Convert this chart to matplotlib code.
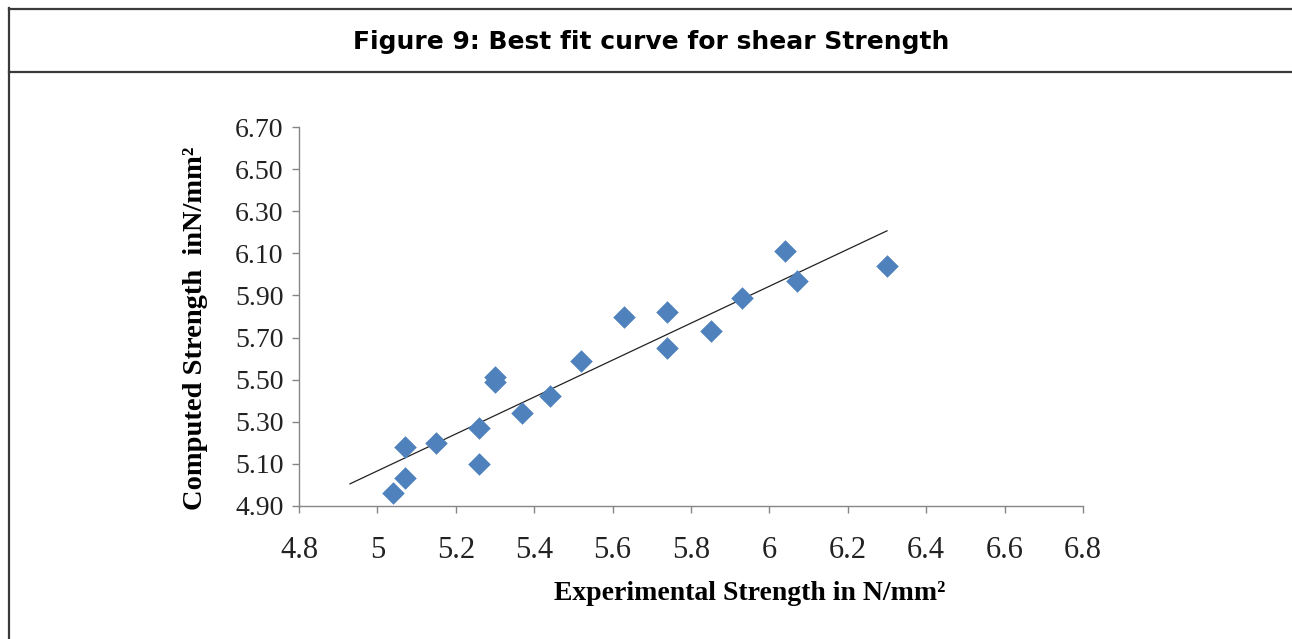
import matplotlib
import matplotlib.pyplot as plt
import numpy as np
from matplotlib.lines import Line2D

matplotlib.use('Agg')

# experimental vs computed shear strength, N/mm2
experimental = [5.04, 5.07, 5.07, 5.15, 5.26, 5.26, 5.30, 5.30, 5.37, 5.44,
                5.52, 5.63, 5.74, 5.74, 5.85, 5.93, 6.04, 6.07, 6.30]
computed = [4.96, 5.18, 5.03, 5.20, 5.27, 5.10, 5.51, 5.49, 5.34, 5.42,
            5.59, 5.80, 5.82, 5.65, 5.73, 5.89, 6.11, 5.97, 6.04]
x_ticks = [4.8, 5.0, 5.2, 5.4, 5.6, 5.8, 6.0, 6.2, 6.4, 6.6, 6.8]
y_ticks = [4.90, 5.10, 5.30, 5.50, 5.70, 5.90, 6.10, 6.30, 6.50, 6.70]
trend_start = 4.93

title = 'Figure 9: Best fit curve for shear Strength'
x_label = 'Experimental Strength in N/mm²'
y_label = 'Computed Strength  inN/mm²'

W, H = 1292, 639
fig = plt.figure(figsize=(W / 100, H / 100), dpi=100)
fig.patch.set_facecolor('white')

# frame around the figure and the title band
frame_color = '#3a3a3a'
fig.add_artist(Line2D([9 / W, 1], [1 - 8.7 / H, 1 - 8.7 / H], color=frame_color, lw=1.6))
fig.add_artist(Line2D([9 / W, 1], [1 - 72 / H, 1 - 72 / H], color=frame_color, lw=1.6))
fig.add_artist(Line2D([9.3 / W, 9.3 / W], [0, 1 - 8 / H], color=frame_color, lw=1.6))
fig.text(651 / W, 1 - 42 / H, title, ha='center', va='center',
         fontsize=18, fontweight='bold', family='DejaVu Sans')

ax = fig.add_axes([299 / W, 1 - 505.7 / H, (1083 - 299) / W, (505.7 - 127.3) / H])

ax.scatter(experimental, computed, marker='D', s=11.5 ** 2, color='#4F81BD',
           linewidths=0, zorder=3)

# linear least-squares trend line
slope, intercept = np.polyfit(experimental, computed, 1)
xs = np.array([trend_start, max(experimental)])
ax.plot(xs, slope * xs + intercept, color='#222222', lw=0.9, zorder=2)

ax.set_xlim(4.8, 6.8)
ax.set_ylim(4.90, 6.70)
ax.set_xticks(x_ticks)
ax.set_xticklabels(['{:g}'.format(v) for v in x_ticks])
ax.set_yticks(y_ticks)
ax.set_yticklabels(['{:.2f}'.format(v) for v in y_ticks])

for side in ['top', 'right']:
  ax.spines[side].set_visible(False)
for side in ['left', 'bottom']:
  ax.spines[side].set_color('#868686')
  ax.spines[side].set_linewidth(1.0)
ax.tick_params(axis='both', direction='out', length=5, width=1.0, color='#868686')
ax.tick_params(axis='x', pad=17, labelsize=22, labelcolor='#222222')
ax.tick_params(axis='y', pad=6, labelsize=20, labelcolor='#222222')
for lbl in ax.get_xticklabels() + ax.get_yticklabels():
  lbl.set_family('Liberation Serif')

fig.text(750 / W, 1 - 594 / H, x_label, ha='center', va='center',
         fontsize=20, fontweight='bold', family='Liberation Serif')
fig.text(196 / W, 1 - 328 / H, y_label, ha='center', va='center', rotation=90,
         fontsize=20.5, fontweight='bold', family='Liberation Serif')

fig.savefig('out.png', dpi=100)
